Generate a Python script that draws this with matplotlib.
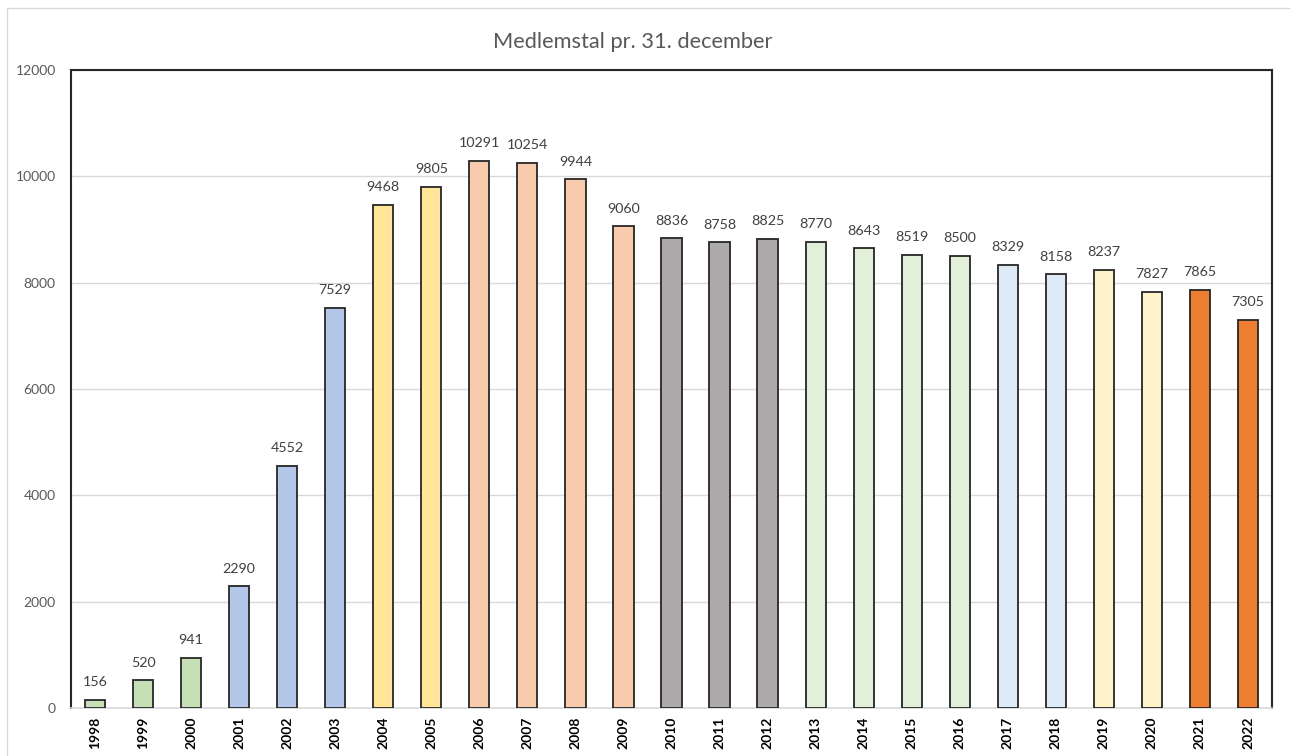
import matplotlib.pyplot as plt
from matplotlib.patches import Rectangle

years = [str(y) for y in range(1998, 2023)]
members = [156, 520, 941, 2290, 4552, 7529, 9468, 9805, 10291, 10254, 9944, 9060,
           8836, 8758, 8825, 8770, 8643, 8519, 8500, 8329, 8158, 8237, 7827, 7865, 7305]

# colour groups (as in the original spreadsheet)
group_colors = ['#C5E0B4'] * 3 + ['#B4C7E7'] * 3 + ['#FFE699'] * 2 + ['#F8CBAD'] * 4 + \
               ['#AEAAAA'] * 3 + ['#E2F0D9'] * 4 + ['#DEEBF7'] * 2 + ['#FFF2CC'] * 2 + ['#ED7D31'] * 2

plt.rcParams['font.family'] = ['Lato', 'DejaVu Sans']

fig = plt.figure(figsize=(12.9, 7.56), dpi=100)
ax = fig.add_axes([71 / 1290, 1 - 708 / 756, (1272 - 71) / 1290, (708 - 70) / 756])

# outer chart border (light grey)
fig.patches.append(Rectangle((7 / 1290, -0.1), 1.2, 1 - 8 / 756 + 0.1, transform=fig.transFigure,
                             fill=False, edgecolor='#D9D9D9', linewidth=1))

x = range(len(years))
ax.bar(x, members, width=0.42, color=group_colors, edgecolor='#262626', linewidth=1.3, zorder=3)

for i, v in enumerate(members):
    ax.text(i, v + 220, str(v), ha='center', va='bottom', fontsize=10.3, color='#404040')

ax.set_xlim(-0.5, len(years) - 0.5)
ax.set_ylim(0, 12000)
ax.set_yticks(range(0, 12001, 2000))
ax.set_yticklabels([str(t) for t in range(0, 12001, 2000)], fontsize=10, color='#595959')
ax.set_xticks(list(x))
ax.set_xticklabels(years, rotation=90, fontsize=10, fontweight='bold', color='black')
ax.tick_params(axis='y', length=0, pad=11)
ax.tick_params(axis='x', length=0, pad=6)
ax.grid(axis='y', color='#D9D9D9', linewidth=1, zorder=0)

for s in ['left', 'top', 'right']:
    ax.spines[s].set_color('#262626')
    ax.spines[s].set_linewidth(1.5)
ax.spines['bottom'].set_color('#D9D9D9')
ax.spines['bottom'].set_linewidth(1.2)

fig.text(633 / 1290, 1 - 42 / 756, 'Medlemstal pr. 31. december', ha='center', va='center',
         fontsize=15.7, color='#595959')

fig.savefig('out.png', dpi=100)
